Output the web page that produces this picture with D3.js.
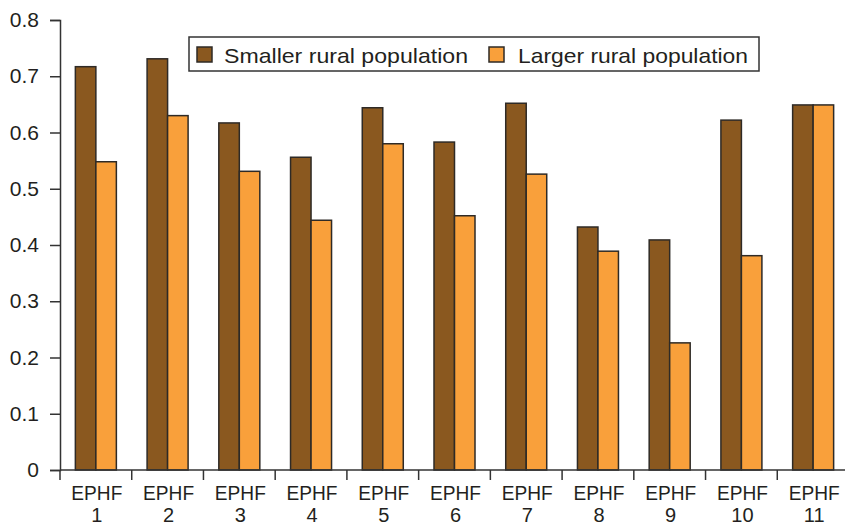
<!DOCTYPE html>
<html><head><meta charset="utf-8">
<script src="https://cdn.jsdelivr.net/npm/d3@7"></script>
<style>body{margin:0;background:#fff}svg{display:block}</style>
</head><body>
<script>
const categories = ["1","2","3","4","5","6","7","8","9","10","11"];
const seriesNames = ["Smaller rural population","Larger rural population"];
const smaller = [0.717,0.731,0.617,0.556,0.644,0.583,0.652,0.432,0.409,0.622,0.649];
const larger  = [0.548,0.630,0.531,0.444,0.580,0.452,0.526,0.389,0.226,0.381,0.649];
const yTicks = [0,0.1,0.2,0.3,0.4,0.5,0.6,0.7,0.8];
const colors = ["#8a581f","#f9a03b"];

const W = 845, H = 527;
const svg = d3.select("body").append("svg").attr("width",W).attr("height",H);
const font = "'Liberation Sans', Arial, sans-serif";
const txt = "#231f20";

const y = d3.scaleLinear().domain([0,0.8]).range([470,20]);
const x = d3.scaleBand().domain(categories).range([60,849]).paddingInner(0).paddingOuter(0);
const step = x.step();
const x1 = d3.scaleBand().domain(seriesNames).range([(step-41)/2,(step+41)/2]);

const data = [smaller, larger];

// bars
const g = svg.append("g");
categories.forEach((c,i)=>{
  seriesNames.forEach((s,j)=>{
    const v = data[j][i];
    g.append("rect")
      .attr("x", x(c)+x1(s))
      .attr("y", y(v))
      .attr("width", x1.bandwidth())
      .attr("height", y(0)-y(v))
      .attr("fill", colors[j])
      .attr("stroke","#2e2a26")
      .attr("stroke-width",1.5);
  });
});

// y axis
const yAxis = svg.append("g").attr("transform","translate(60,0)")
  .call(d3.axisLeft(y).tickValues(yTicks).tickSize(10).tickPadding(11)
    .tickFormat(d=> d===0 ? "0" : d3.format(".1f")(d)));
yAxis.select(".domain").attr("stroke","#333").attr("stroke-width",1.5);
yAxis.selectAll(".tick line").attr("stroke","#333").attr("stroke-width",1.5);
yAxis.selectAll(".tick text").attr("font-family",font).attr("font-size",21).attr("fill",txt);

// x axis
const xg = svg.append("g");
xg.append("line").attr("x1",60).attr("x2",849).attr("y1",470).attr("y2",470)
  .attr("stroke","#333").attr("stroke-width",1.5);
const bounds = categories.map(c=>x(c));
xg.selectAll(".bt").data(bounds).enter().append("line")
  .attr("x1",d=>d).attr("x2",d=>d).attr("y1",470).attr("y2",480)
  .attr("stroke","#333").attr("stroke-width",1.5);
const lab = xg.selectAll(".lab").data(categories).enter().append("text")
  .attr("x",d=>x(d)+step/2+1).attr("text-anchor","middle")
  .attr("font-family",font).attr("font-size",20).attr("fill",txt);
lab.append("tspan").attr("x",d=>x(d)+step/2+1).attr("y",500).attr("textLength",51).attr("lengthAdjust","spacingAndGlyphs").text("EPHF");
lab.append("tspan").attr("x",d=>x(d)+step/2+1).attr("y",522).text(d=>d);

// legend
const lg = svg.append("g");
lg.append("rect").attr("x",189).attr("y",37).attr("width",570).attr("height",34)
  .attr("fill","#fff").attr("stroke","#333").attr("stroke-width",1.5);
const legPos = [{sx:197, tx:224, tl:244},{sx:489, tx:518, tl:230}];
seriesNames.forEach((s,j)=>{
  lg.append("rect").attr("x",legPos[j].sx).attr("y",47).attr("width",15).attr("height",15)
    .attr("fill",colors[j]).attr("stroke","#2e2a26").attr("stroke-width",1.5);
  lg.append("text").attr("x",legPos[j].tx).attr("y",62.5)
    .attr("font-family",font).attr("font-size",21).attr("fill",txt)
    .attr("textLength",legPos[j].tl).attr("lengthAdjust","spacingAndGlyphs").text(s);
});
</script>
</body></html>
